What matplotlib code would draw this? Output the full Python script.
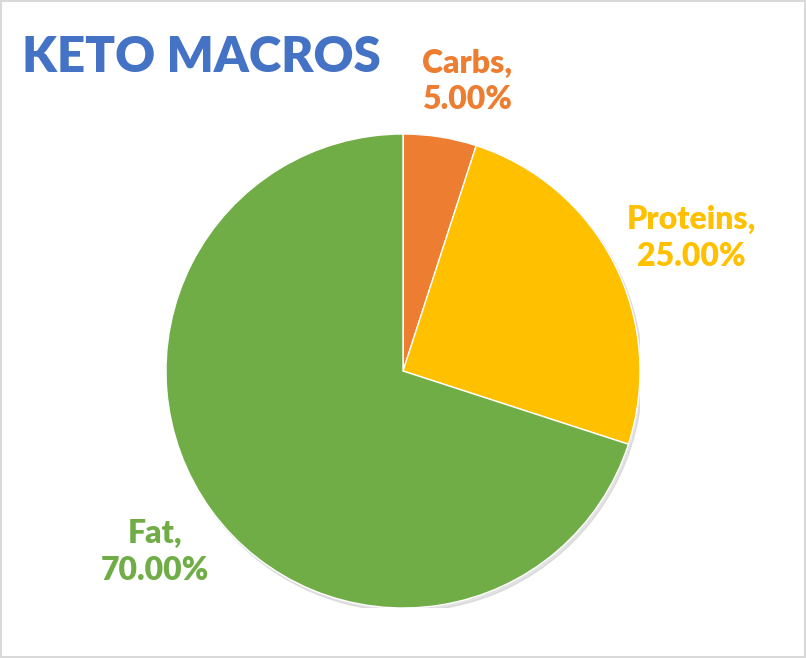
import matplotlib.pyplot as plt
from matplotlib.patches import Circle, Rectangle

# dane
labels = ["Carbs", "Proteins", "Fat"]
values = [5, 25, 70]
colors = ["#ED7D31", "#FFC000", "#70AD47"]
label_pos = [(0.27, 1.22), (1.215, 0.561), (-1.046, -0.764)]

plt.rcParams['font.family'] = ['Lato', 'DejaVu Sans']

fig = plt.figure(figsize=(8.06, 6.58), dpi=100)
fig.patches.append(Rectangle((0.0015, 0.002), 0.997, 0.996, transform=fig.transFigure,
                             fill=False, edgecolor="#D9D9D9", linewidth=1.5))

# środek koła (403, 371) px, promień 237 px
ax = fig.add_axes([(403 - 237) / 806, (658 - 608) / 658, 474 / 806, 474 / 658])
ax.axis('off')

# delikatny cień
ax.add_patch(Circle((0.01, -0.014), 1.0, color="#C8C8C8", alpha=0.5, zorder=0))

wedges, _ = ax.pie(values, colors=colors, startangle=90, counterclock=False,
                   radius=1.0, wedgeprops=dict(edgecolor='white', linewidth=1.0))
for w in wedges:
    w.set_zorder(1)

# pie() nadpisuje zakresy - ustawiamy po nim
ax.set_xlim(-1, 1)
ax.set_ylim(-1, 1)
ax.set_aspect('equal')

for lab, val, col, (x, y) in zip(labels, values, colors, label_pos):
    ax.text(x, y, lab + ",\n" + "%.2f%%" % val, color=col, fontsize=23,
            fontweight='heavy', ha='center', va='center', linespacing=1.3,
            clip_on=False)

fig.text(22 / 806, 1 - 58 / 658, "KETO MACROS", color="#4472C4", fontsize=35.5,
         fontweight='heavy', ha='left', va='center')

fig.savefig("out.png", dpi=100)
